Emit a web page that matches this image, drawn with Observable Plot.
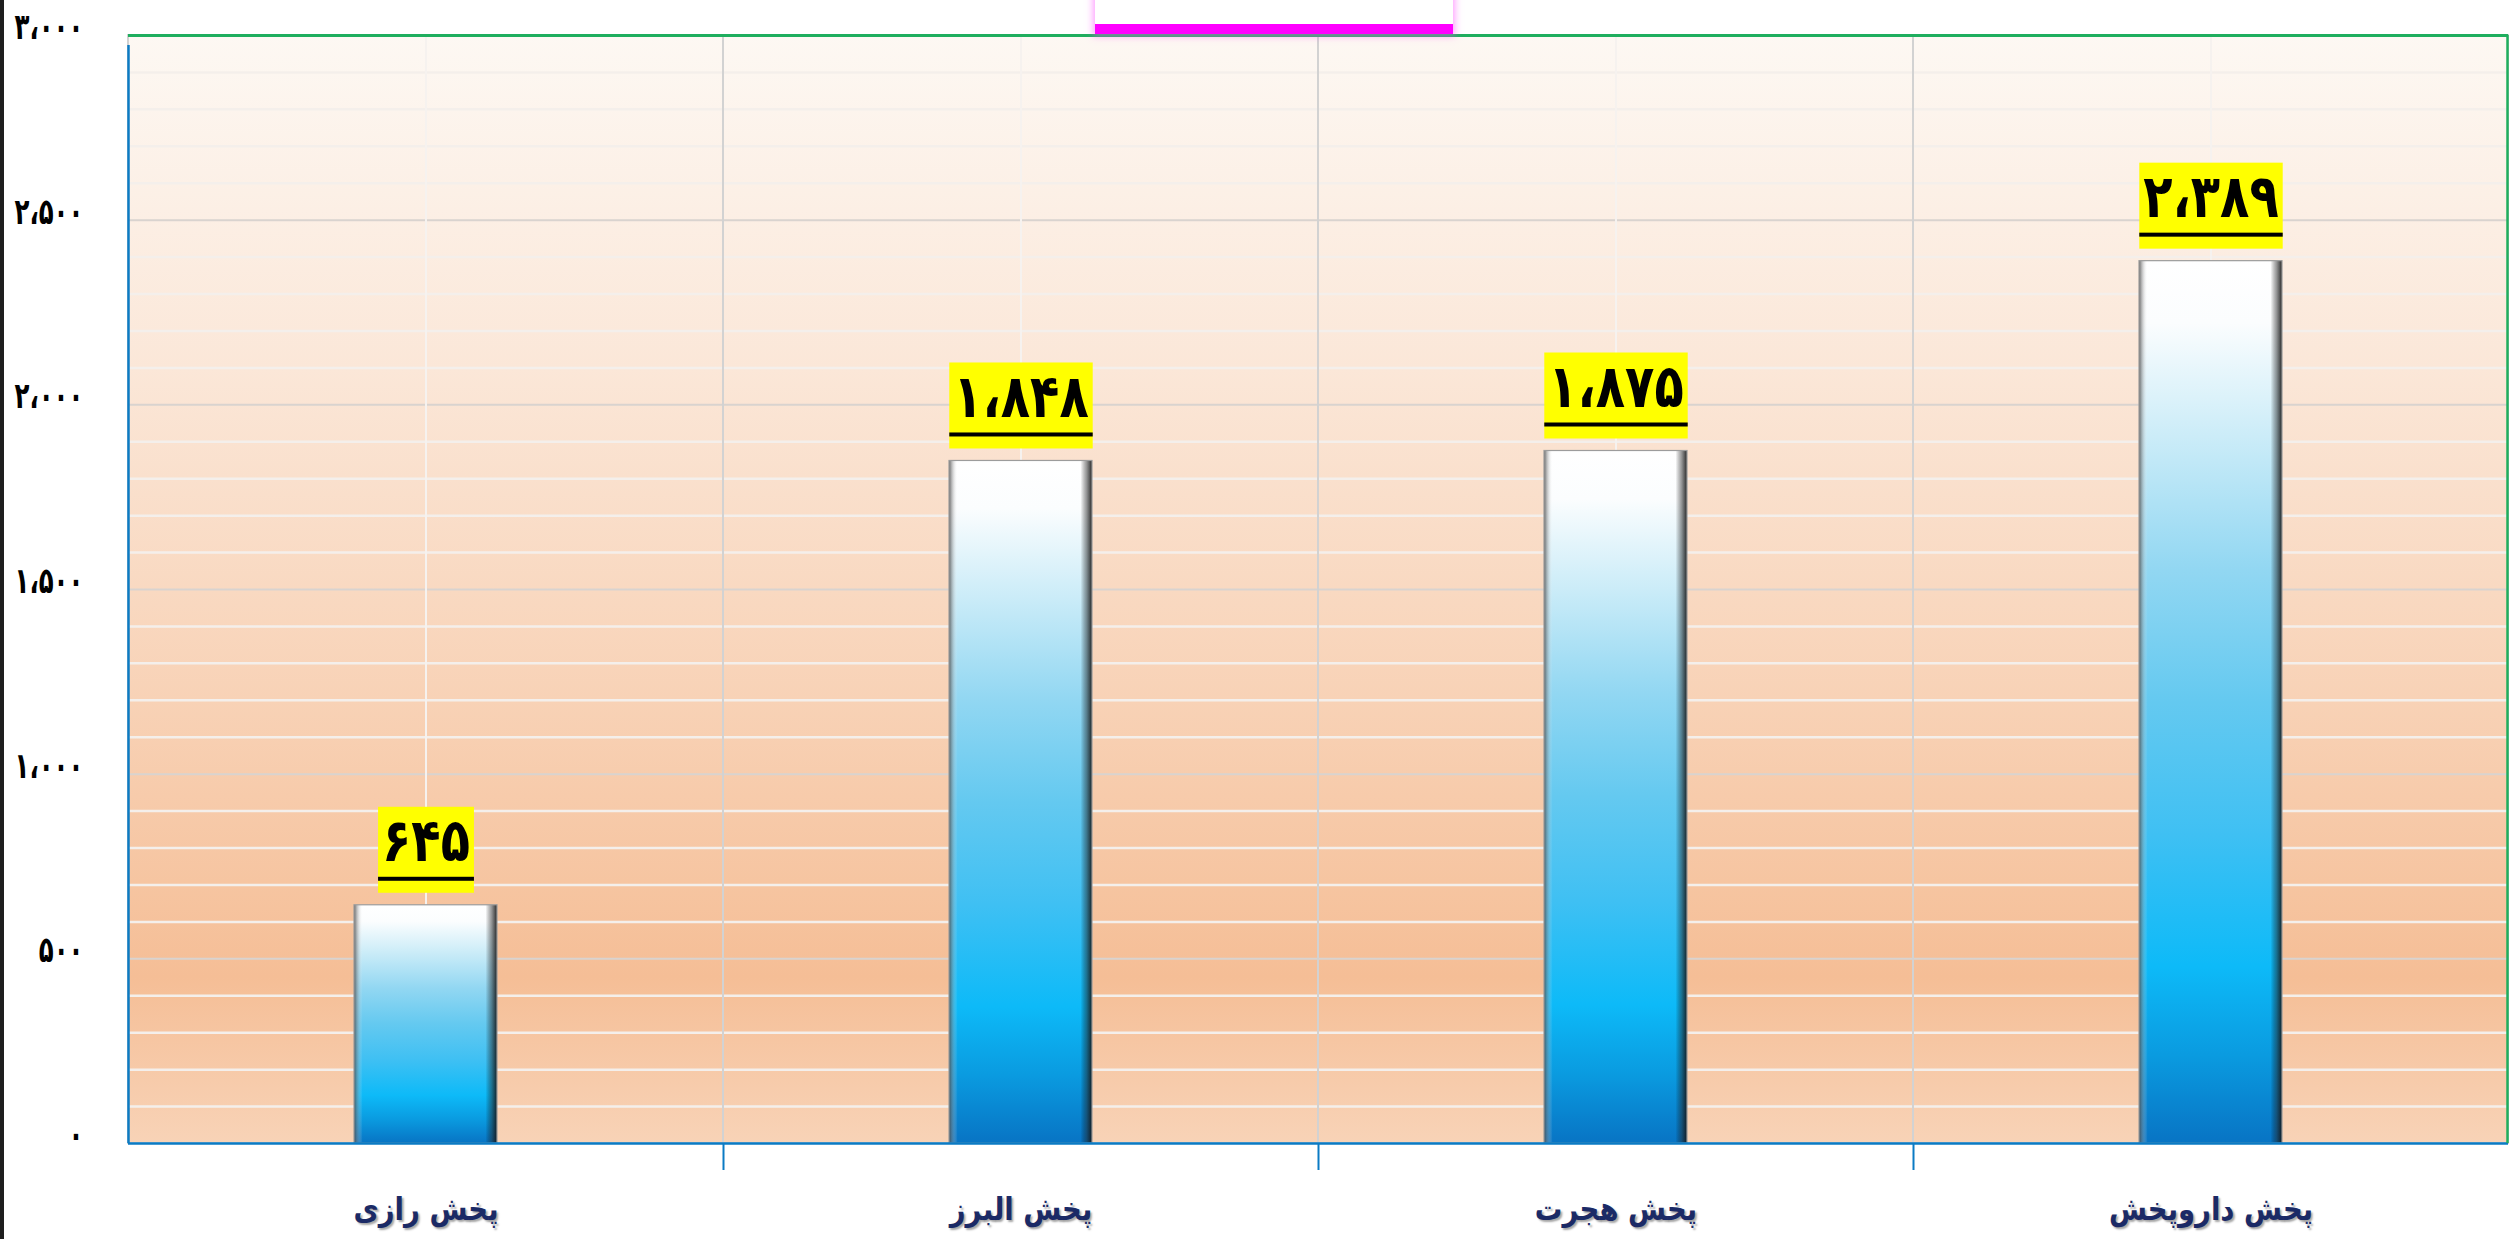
<!DOCTYPE html>
<html>
<head>
<meta charset="utf-8">
<script src="https://cdn.jsdelivr.net/npm/d3@7"></script>
<script src="https://cdn.jsdelivr.net/npm/@observablehq/plot@0.6"></script>
<style>
  html, body { margin: 0; padding: 0; background: #ffffff; overflow: hidden; }
  #wrap { position: relative; width: 2509px; height: 1239px; }
  #strip { position: absolute; left: 0; top: 0; width: 4px; height: 1239px; background: #1e1e1e; z-index: 3; }
  #titlebox { position: absolute; left: 1095px; top: -60px; width: 358px; height: 84px; background: #fff;
           border-bottom: 10px solid #ff00ff; box-shadow: 0 0 7px 2px rgba(255,80,255,0.55); z-index: 2; }
  svg text { font-family: "DejaVu Sans", sans-serif; }
</style>
</head>
<body>
<div id="wrap"><div id="strip"></div><div id="titlebox"></div></div>
<script>
// ---- data ----
const categories = ["پخش رازی", "پخش البرز", "پخش هجرت", "پخش داروپخش"];
const values = [645, 1848, 1875, 2389];
const yTicks = [0, 500, 1000, 1500, 2000, 2500, 3000];
const yMax = 3000;
const minorStep = 100;

const data = categories.map((c, i) => ({name: categories[i], value: values[i]}));
const faDigits = "۰۱۲۳۴۵۶۷۸۹";
const fa = d => d3.format(",")(d).replace(/\d/g, c => faDigits[+c]).replace(/,/g, "،");

const W = 2509, H = 1239;
const mL = 128, mR = 1, mT = 35, mB = 96;
const bw = (W - mL - mR) / categories.length;
const barW = 143;
const inset = (bw - barW) / 2;

const minor = d3.range(minorStep, yMax, minorStep).filter(v => v % 500 !== 0);
const major = yTicks.filter(v => v > 0 && v < yMax);

const chart = Plot.plot({
  width: W, height: H,
  marginLeft: mL, marginRight: mR, marginTop: mT, marginBottom: mB,
  style: {background: "transparent", overflow: "visible"},
  x: {domain: categories, padding: 0},
  y: {domain: [0, yMax]},
  marks: [
    Plot.frame({fill: "url(#bgGrad)", stroke: "none"}),
    Plot.ruleY(minor, {stroke: "#f4efeb", strokeWidth: 2.5}),
    Plot.ruleY(major, {stroke: "#d9d3cf", strokeWidth: 2}),
    Plot.ruleX(categories, {stroke: "#f6f2ef", strokeWidth: 2}),
    Plot.barY(categories, {x: d => d, y1: 0, y2: yMax, fill: "none", stroke: "#d2d2d2", strokeWidth: 2}),
    Plot.barY(data, {x: "name", y: "value", fill: "url(#barGrad)", insetLeft: inset, insetRight: inset}),
    Plot.barY(data, {x: "name", y: "value", fill: "url(#bevelH)", stroke: "#9c9c9c", strokeWidth: 1.2, insetLeft: inset, insetRight: inset}),
    Plot.text(data, {x: "name", y: "value", text: d => fa(d.value), dy: -44, lineAnchor: "bottom",
      fontSize: 60, fontWeight: "bold", fill: "#000"}),
    Plot.ruleX(categories.slice(1), {x: d => d, dx: -bw / 2, y1: 0, y2: 0, insetBottom: -27, stroke: "#0b7bc4", strokeWidth: 2}),
    Plot.ruleY([0], {stroke: "#0b7bc4", strokeWidth: 2.5}),
    Plot.ruleX(categories.slice(0, 1), {x: d => d, dx: -bw / 2, y1: 0, y2: yMax, insetBottom: -10, stroke: "#0b7bc4", strokeWidth: 2.5}),
    Plot.ruleY([yMax], {stroke: "#1fae5e", strokeWidth: 3}),
    Plot.ruleX(categories.slice(-1), {x: d => d, dx: bw / 2 - 1, y1: 0, y2: yMax, stroke: "#1fae5e", strokeWidth: 2.5}),
    Plot.axisY({ticks: yTicks, tickFormat: fa, tickSize: 0, tickPadding: 45, dy: -8,
      fontSize: 36, fontWeight: "bold", fill: "#000", label: null}),
    Plot.axisX({tickSize: 0, tickPadding: 54, fontSize: 32, fontWeight: "bold", fill: "#1b2a66", label: null})
  ]
});

// gradients
const svg = d3.select(chart);
const defs = svg.insert("defs", ":first-child");
function grad(id, vertical, stops) {
  const g = defs.append("linearGradient").attr("id", id)
    .attr("x1", 0).attr("y1", 0).attr("x2", vertical ? 0 : 1).attr("y2", vertical ? 1 : 0);
  stops.forEach(([o, c, a]) => g.append("stop").attr("offset", o).attr("stop-color", c).attr("stop-opacity", a ?? 1));
}
grad("bgGrad", true, [[0, "#fdf8f3"], [0.3, "#fbe7d8"], [0.6, "#f8d2b6"], [0.85, "#f5be96"], [1, "#f8d3b7"]]);
grad("barGrad", true, [[0, "#ffffff"], [0.07, "#fbfdfe"], [0.2, "#cbecf8"], [0.35, "#92d7f2"], [0.5, "#64c9f0"],
  [0.65, "#3fc0f3"], [0.8, "#0dbaf8"], [0.9, "#0a9be0"], [1, "#0874c4"]]);
grad("bevelH", false, [[0, "#404040", 0.8], [0.025, "#8a8a8a", 0.45], [0.06, "#ffffff", 0], [0.92, "#000000", 0],
  [0.96, "#202020", 0.45], [1, "#101010", 0.9]]);

document.getElementById("wrap").append(chart);
chart.style.position = "absolute";
chart.style.left = "0px";
chart.style.top = "0px";

const sr = chart.getBoundingClientRect();
const yScale = chart.scale("y");

// compress glyphs horizontally (narrower Persian face in the reference)
const yLabelSet = new Set(yTicks.map(fa));
const xLabelSet = new Set(categories);
const valSet = new Set(values.map(fa));
function squeeze(el, k) {
  const t = el.getAttribute("transform");
  if (t) el.setAttribute("transform", t + ` scale(${k},1)`);
  else {
    const x = +el.getAttribute("x") || 0;
    el.setAttribute("transform", `translate(${x},0) scale(${k},1) translate(${-x},0)`);
  }
}
svg.selectAll("text").each(function () {
  const s = this.textContent;
  if (yLabelSet.has(s)) squeeze(this, 0.68);
  else if (valSet.has(s)) squeeze(this, 0.8);
  if (xLabelSet.has(s)) { squeeze(this, 0.86); d3.select(this).style("text-shadow", "2px 2px 2px rgba(0,0,0,0.35)"); }
});

// yellow label boxes behind the value texts
data.forEach(d => {
  const label = fa(d.value);
  const el = svg.selectAll("text").filter(function () { return this.textContent === label && !yLabelSet.has(label); }).node();
  if (!el) return;
  const r = el.getBoundingClientRect();
  const x0 = r.left - sr.left - 4, w = r.width + 8;
  const top = yScale.apply(d.value);
  const parentG = el.closest("g");
  const g = svg.insert("g", () => parentG);
  g.append("rect").attr("x", x0).attr("width", w).attr("y", top - 98).attr("height", 86).attr("fill", "#ffff00");
  svg.append("rect").attr("x", x0).attr("width", w).attr("y", top - 28).attr("height", 4).attr("fill", "#000");
});
</script>
</body>
</html>
